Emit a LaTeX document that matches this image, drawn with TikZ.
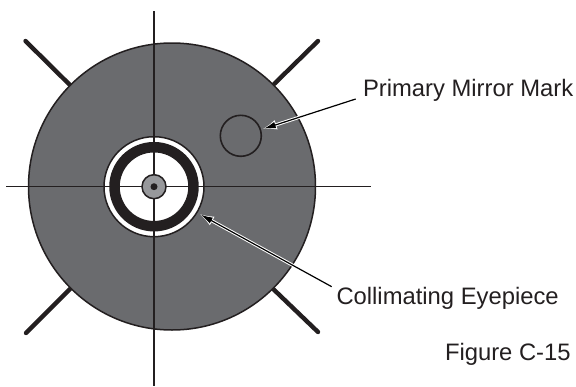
\documentclass[tikz,border=0pt]{standalone}
\usepackage{fontspec}
\setmainfont{Liberation Sans}
\usetikzlibrary{arrows.meta,calc}
\definecolor{ink}{HTML}{231F20}
\definecolor{discgray}{HTML}{6A6B6E}
\definecolor{hubgray}{HTML}{97989B}
\tikzset{
  spoke/.style={draw=ink,line width=4.4pt,line cap=round},
  crosshair/.style={draw=ink,line width=1.5pt},
  ring/.style={circle,inner sep=0pt,outer sep=0pt},
  lbl/.style={anchor=base west,inner sep=0pt,outer sep=0pt,text=ink,font=\fontsize{23.8}{26}\selectfont},
  halo/.style={draw=white,line width=3.2pt,-{Latex[length=15pt,width=10pt]}},
  leader/.style={draw=black,line width=1.2pt,shorten >=2pt,-{Latex[length=12pt,width=6.5pt]}}
}
\begin{document}
\begin{tikzpicture}[x=1pt,y=-1pt]
\useasboundingbox (0,0) rectangle (576,386);
% spokes
\draw[spoke] (25.5,41) -- (75,90);
\draw[spoke] (26,333) -- (75,284);
\draw[spoke] (318,41) -- (268,90);
\draw[spoke] (318,332) -- (268,284);
% disc
\node[ring,minimum size=287pt,fill=discgray,draw=ink,line width=1.5pt] (disc) at (172,186.5) {};
% eyepiece
\node[ring,minimum size=100pt,fill=white,draw=ink,line width=1.5pt,outer sep=2.5pt] (eye) at (154,186.7) {};
\node[ring,minimum size=79pt,draw=ink,line width=10.5pt] (band) at (154,186.7) {};
% crosshair
\coordinate (vtop) at (154,11);
\coordinate (vbot) at (154,385.5);
\coordinate (hleft) at (6,186.7);
\coordinate (hright) at (371,186.7);
\draw[crosshair] (vtop) -- (vbot);
\draw[crosshair] (hleft) -- (hright);
% hub
\node[ring,minimum size=24pt,fill=hubgray,draw=ink,line width=1.5pt] (hub) at (154,186.7) {};
\node[ring,minimum size=7pt,fill=ink] (dot) at (154,186.7) {};
% mirror mark
\node[ring,minimum size=41pt,draw=ink,line width=1.6pt,outer sep=1.5pt] (mark) at (240.8,135.8) {};
% labels
\node[lbl] (primary) at (363,96) {Primary Mirror Mark};
\node[lbl] (coll) at (336.5,304.3) {Collimating Eyepiece};
\node[lbl] (fig) at (445,360.7) {Figure C-15};
\coordinate (pstart) at (355.7,99);
\coordinate (cstart) at (331.7,286.7);
% leaders
\draw[halo] ($(pstart)!0.45!(mark.17.5)$) -- (mark.17.5);
\draw[halo] ($(cstart)!0.25!(eye.-31.2)$) -- (eye.-31.2);
\draw[leader] (pstart) -- (mark.17.5);
\draw[leader] (cstart) -- (eye.-31.2);
\end{tikzpicture}
\end{document}
